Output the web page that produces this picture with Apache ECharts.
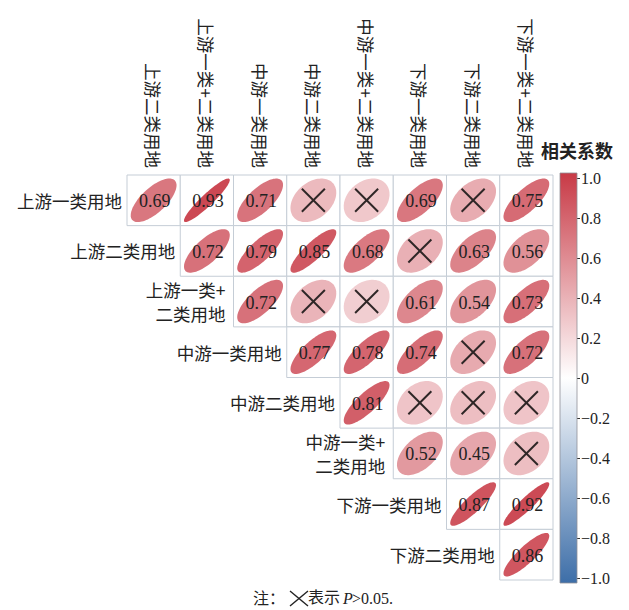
<!DOCTYPE html>
<html>
<head>
<meta charset="utf-8">
<script src="https://cdn.jsdelivr.net/npm/echarts@6/dist/echarts.min.js"></script>
<style>
html,body{margin:0;padding:0;background:#fff;}
#chart{width:629px;height:610px;}
</style>
</head>
<body>
<div id="chart"></div>
<script>
// ---------------- data ----------------
const rowLabels = ['上游一类用地', '上游二类用地', '上游一类+\n二类用地', '中游一类用地',
                   '中游二类用地', '中游一类+\n二类用地', '下游一类用地', '下游二类用地'];
const colLabels = ['上游二类用地', '上游一类+二类用地', '中游一类用地', '中游二类用地',
                   '中游一类+二类用地', '下游一类用地', '下游二类用地', '下游一类+二类用地'];
// correlation matrix (upper triangle, rows x columns); null = not drawn
const corrRow0 = [0.69, 0.93, 0.71, 0.35, 0.28, 0.69, 0.42, 0.75];
const corrRow1 = [null, 0.72, 0.79, 0.85, 0.68, 0.40, 0.63, 0.56];
const corrRow2 = [null, null, 0.72, 0.38, 0.25, 0.61, 0.54, 0.73];
const corrRow3 = [null, null, null, 0.77, 0.78, 0.74, 0.43, 0.72];
const corrRow4 = [null, null, null, null, 0.81, 0.30, 0.33, 0.30];
const corrRow5 = [null, null, null, null, null, 0.52, 0.45, 0.33];
const corrRow6 = [null, null, null, null, null, null, 0.87, 0.92];
const corrRow7 = [null, null, null, null, null, null, null, 0.86];
const corrRows = [corrRow0, corrRow1, corrRow2, corrRow3, corrRow4, corrRow5, corrRow6, corrRow7];
// cells with P > 0.05, as [row, col]
const nonSignificant = [[0, 3], [0, 4], [0, 6], [1, 5], [2, 3], [2, 4], [3, 6], [4, 5], [4, 6], [4, 7], [5, 7]];
const colorbarMin = -1.0;
const colorbarMax = 1.0;
const colorbarStep = 0.2;

// ---------------- styling helpers ----------------
const RED = [200, 58, 70];
const BLUE = [61, 110, 168];
function colorFor(v) {
  const t = Math.min(1, Math.abs(v));
  const end = v >= 0 ? RED : BLUE;
  const c = end.map(e => Math.round(255 + (e - 255) * t));
  return 'rgb(' + c.join(',') + ')';
}
const CJK = '"Noto Sans CJK SC", "Noto Sans", sans-serif';
const SERIF = '"Liberation Serif", "DejaVu Serif", serif';

const cellData = [];
corrRows.forEach((row, r) => {
  row.forEach((v, c) => {
    if (v === null) return;
    const ns = nonSignificant.some(p => p[0] === r && p[1] === c) ? 1 : 0;
    cellData.push([c, r, v, ns]);
  });
});
const rowLabelData = rowLabels.map((_, r) => [r, r]);

function renderCell(params, api) {
  const c = api.value(0), r = api.value(1), v = api.value(2), ns = api.value(3);
  const ctr = api.coord([c, r]);
  const sz = api.size([1, 1]);
  const w = sz[0], h = sz[1];
  const cx = ctr[0], cy = ctr[1];
  const d = Math.acos(v);
  const pts = [];
  const N = 90;
  for (let i = 0; i < N; i++) {
    const k = i / N * 2 * Math.PI;
    pts.push([cx + 0.43 * w * Math.cos(k + d / 2), cy - 0.43 * h * Math.cos(k - d / 2)]);
  }
  const children = [
    { type: 'rect', shape: { x: cx - w / 2, y: cy - h / 2, width: w, height: h },
      style: { fill: '#fff', stroke: '#c5cdd6', lineWidth: 1 } },
    { type: 'polygon', shape: { points: pts }, style: { fill: colorFor(v), stroke: null } }
  ];
  if (ns) {
    const s = 11.5;
    children.push({ type: 'line', shape: { x1: cx - s, y1: cy - s, x2: cx + s, y2: cy + s },
      style: { stroke: '#2e2626', lineWidth: 2 } });
    children.push({ type: 'line', shape: { x1: cx - s, y1: cy + s, x2: cx + s, y2: cy - s },
      style: { stroke: '#2e2626', lineWidth: 2 } });
  } else {
    children.push({ type: 'text', style: { text: v.toFixed(2), x: cx + 1, y: cy + 1,
      align: 'center', verticalAlign: 'middle', fontSize: 18, fontFamily: SERIF, fill: '#222' } });
  }
  return { type: 'group', children: children };
}

function renderRowLabel(params, api) {
  const c = api.value(0), r = api.value(1);
  const ctr = api.coord([c, r]);
  const sz = api.size([1, 1]);
  const multi = rowLabels[r].indexOf('\n') >= 0;
  return { type: 'text', style: { text: rowLabels[r], x: ctr[0] - sz[0] / 2 - (multi ? 8 : 5), y: ctr[1],
    align: 'right', verticalAlign: 'middle', fontSize: 17.5, lineHeight: 24,
    fontFamily: CJK, fill: '#222' } };
}

function renderColorbar(params, api) {
  const cs = params.coordSys;
  return { type: 'rect', shape: { x: cs.x, y: cs.y - 5, width: cs.width, height: cs.height + 10 },
    style: { fill: new echarts.graphic.LinearGradient(0, 0, 0, 1, [
      { offset: 0, color: 'rgb(' + RED.join(',') + ')' },
      { offset: 0.5, color: '#ffffff' },
      { offset: 1, color: 'rgb(' + BLUE.join(',') + ')' }
    ]), stroke: '#8f8f98', lineWidth: 0.8 } };
}

const chart = echarts.init(document.getElementById('chart'), null, { renderer: 'svg' });
chart.setOption({
  animation: false,
  backgroundColor: '#fff',
  grid: [
    { left: 127, top: 175, width: 426, height: 405 },
    { left: 560, top: 178, width: 17, height: 400 }
  ],
  xAxis: [
    { type: 'category', gridIndex: 0, position: 'top', data: colLabels,
      axisLine: { show: false }, axisTick: { show: false }, splitLine: { show: false },
      axisLabel: { interval: 0, rotate: 90, margin: 7, fontSize: 17.5, fontFamily: CJK, color: '#222' } },
    { type: 'category', gridIndex: 1, data: ['bar'], show: false }
  ],
  yAxis: [
    { type: 'category', gridIndex: 0, inverse: true, data: rowLabels,
      axisLine: { show: false }, axisTick: { show: false }, axisLabel: { show: false }, splitLine: { show: false } },
    { type: 'value', gridIndex: 1, min: colorbarMin, max: colorbarMax, interval: colorbarStep, position: 'right',
      axisLine: { show: false }, splitLine: { show: false },
      axisTick: { show: true, length: 3, lineStyle: { color: '#333', width: 1 } },
      axisLabel: { margin: 4, fontSize: 16, fontFamily: SERIF, color: '#222',
        formatter: function (v) {
          const r = Math.round(v * 10) / 10;
          if (r === 0) return '0';
          return (r < 0 ? '\u2212' : '') + Math.abs(r).toFixed(1);
        } } }
  ],
  series: [
    { type: 'custom', xAxisIndex: 0, yAxisIndex: 0, data: cellData, renderItem: renderCell, silent: true },
    { type: 'custom', xAxisIndex: 0, yAxisIndex: 0, data: rowLabelData, renderItem: renderRowLabel, silent: true },
    { type: 'custom', xAxisIndex: 1, yAxisIndex: 1, data: [[0, 0]], renderItem: renderColorbar, silent: true, z: 1 }
  ],
  graphic: [
    { type: 'text', left: 541, top: 141, style: { text: '相关系数', fontSize: 18, fontWeight: 'bold',
      fontFamily: CJK, fill: '#222' } },
    { type: 'group', left: 253, top: 588, children: [
      { type: 'text', x: 0, y: 0, style: { text: '注：', fontSize: 16, fontFamily: CJK, fill: '#222' } },
      { type: 'line', shape: { x1: 37, y1: 2, x2: 55, y2: 17 }, style: { stroke: '#222', lineWidth: 1.4 } },
      { type: 'line', shape: { x1: 37, y1: 17, x2: 55, y2: 2 }, style: { stroke: '#222', lineWidth: 1.4 } },
      { type: 'text', x: 55, y: -1, style: { text: '表示', fontSize: 16, fontFamily: CJK, fill: '#222' } },
      { type: 'text', x: 90, y: 1, style: { text: 'P', fontSize: 16, fontStyle: 'italic', fontFamily: SERIF, fill: '#222' } },
      { type: 'text', x: 99, y: 1, style: { text: '>0.05.', fontSize: 16, fontFamily: SERIF, fill: '#222' } }
    ] }
  ]
});
</script>
</body>
</html>
